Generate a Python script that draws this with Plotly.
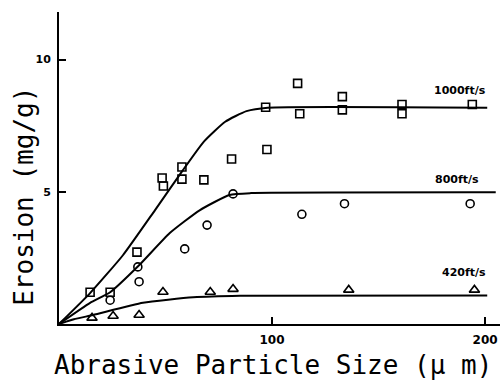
import plotly.graph_objects as go

# Measured erosion points, particle size in micrometres, erosion in mg/g
sq_x = [14.6, 24, 36.6, 48.4, 49, 57.7, 57.7, 68, 81, 97, 97.6, 112, 113, 133, 133, 161, 161, 194]
sq_y = [1.2, 1.2, 2.72, 5.52, 5.22, 5.48, 5.94, 5.45, 6.24, 8.2, 6.6, 9.1, 7.95, 8.6, 8.1, 8.3, 7.95, 8.3]

ci_x = [24, 37, 37.6, 59, 69.5, 81.7, 114, 134, 193]
ci_y = [0.9, 2.16, 1.6, 2.84, 3.74, 4.92, 4.15, 4.55, 4.55]

tr_x = [15.5, 25.4, 37.6, 48.8, 71, 81.7, 136, 195]
tr_y = [0.23, 0.3, 0.34, 1.21, 1.21, 1.32, 1.29, 1.29]

# Hand-drawn trend curves for each velocity
c1000_x = [0, 14.6, 30, 45, 58, 68, 78, 88, 98, 201]
c1000_y = [0, 1.17, 2.6, 4.3, 5.8, 6.9, 7.65, 8.05, 8.18, 8.18]

c800_x = [0, 14.6, 24, 37.7, 52, 66, 80, 90, 205]
c800_y = [0, 0.8, 1.2, 2.23, 3.44, 4.3, 4.88, 4.95, 4.98]

c420_x = [0, 7, 16, 39.4, 63, 85, 201]
c420_y = [0, 0.18, 0.34, 0.8, 1.01, 1.07, 1.08]

curve_labels = ["1000ft/s", "800ft/s", "420ft/s"]
label_x = [188, 187, 190]
label_y = [8.85, 5.48, 1.93]

x_ticks = [100, 200]
y_ticks = [5, 10]

fig = go.Figure()

line_style = dict(color="black", width=2, shape="spline", smoothing=0.5)
for cx, cy in [(c1000_x, c1000_y), (c800_x, c800_y), (c420_x, c420_y)]:
    fig.add_trace(go.Scatter(x=cx, y=cy, mode="lines", line=line_style,
                             hoverinfo="skip", showlegend=False))

marker_line = dict(color="black", width=1.6)
fig.add_trace(go.Scatter(x=sq_x, y=sq_y, mode="markers", showlegend=False,
                         marker=dict(symbol="square-open", size=8, color="black", line=marker_line)))
fig.add_trace(go.Scatter(x=ci_x, y=ci_y, mode="markers", showlegend=False,
                         marker=dict(symbol="circle-open", size=8, color="black", line=marker_line)))
fig.add_trace(go.Scatter(x=tr_x, y=tr_y, mode="markers", showlegend=False,
                         marker=dict(symbol="triangle-up-open", size=9, color="black", line=marker_line)))

for txt, lx, ly in zip(curve_labels, label_x, label_y):
    fig.add_annotation(x=lx, y=ly, text=txt, showarrow=False, xanchor="center", yanchor="middle",
                       font=dict(family="DejaVu Sans", size=11, color="black", weight="bold"))

# Origin label
fig.add_annotation(x=-6, y=-0.7, text="0", showarrow=False, xanchor="center", yanchor="middle",
                   font=dict(family="DejaVu Sans", size=10, color="black"))

mono = "DejaVu Sans Mono"
fig.add_annotation(xref="paper", yref="paper", x=0.485, y=-0.132, text="Abrasive Particle Size (μ m)",
                   showarrow=False, xanchor="center", yanchor="middle",
                   font=dict(family=mono, size=26, color="black"))
fig.add_annotation(xref="paper", yref="paper", x=-0.08, y=0.41, text="Erosion (mg/g)",
                   showarrow=False, xanchor="center", yanchor="middle", textangle=-90,
                   font=dict(family=mono, size=26, color="black"))

fig.update_xaxes(range=[0, 207], showgrid=False, zeroline=False, showline=True,
                 linecolor="black", linewidth=2, ticks="inside", ticklen=7, tickwidth=1.5,
                 tickcolor="black", tickvals=x_ticks, ticktext=[str(v) for v in x_ticks],
                 tickfont=dict(family="DejaVu Sans", size=12, color="black", weight="bold"),
                 ticklabelstandoff=4)
fig.update_yaxes(range=[0, 11.8], showgrid=False, zeroline=False, showline=True,
                 linecolor="black", linewidth=2, ticks="inside", ticklen=7, tickwidth=1.5,
                 tickcolor="black", tickvals=y_ticks, ticktext=[str(v) for v in y_ticks],
                 tickfont=dict(family="DejaVu Sans", size=11, color="black", weight="bold"),
                 ticklabelstandoff=4)

fig.update_layout(width=503, height=381, margin=dict(l=59, r=3, t=12, b=57),
                  plot_bgcolor="white", paper_bgcolor="white")

fig.write_html("out.html")
